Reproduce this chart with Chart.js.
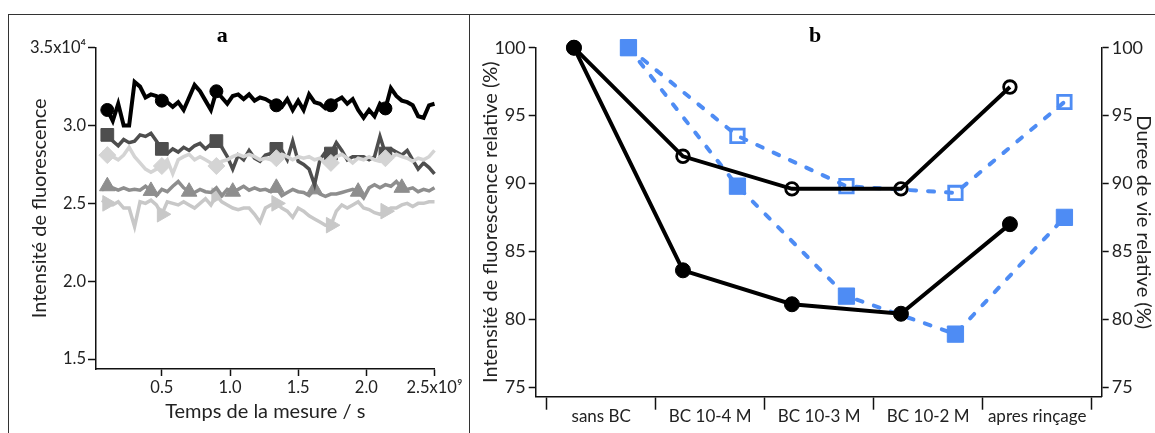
<!DOCTYPE html>
<html lang="fr">
<head>
<meta charset="utf-8">
<title>Fluorescence</title>
<script src="https://cdn.jsdelivr.net/npm/chart.js@4.4.0/dist/chart.umd.min.js"></script>
<style>
  html, body { margin: 0; padding: 0; background: #fff; }
  body { width: 1155px; height: 433px; position: relative; overflow: hidden; }
  .rule { position: absolute; background: #333; }
  canvas { position: absolute; top: 15px; }
  #chartA { left: 10px; }
  #chartB { left: 474px; }
</style>
</head>
<body>
<div class="rule" style="left:8px;top:14px;width:1147px;height:1.4px"></div>
<div class="rule" style="left:8px;top:14px;width:1.4px;height:419px"></div>
<div class="rule" style="left:469px;top:14px;width:1.4px;height:419px"></div>
<canvas id="chartA" width="478" height="418"></canvas>
<canvas id="chartB" width="682" height="418"></canvas>
<script>
// --- panel a : intensité (x10^4) en fonction du temps (x10^9 s)
const times = [0.06,0.10,0.14,0.18,0.22,0.26,0.30,0.34,0.38,0.42,
               0.46,0.50,0.54,0.58,0.62,0.66,0.70,0.74,0.78,0.82,
               0.86,0.90,0.94,0.98,1.02,1.06,1.10,1.14,1.18,1.22,
               1.26,1.30,1.34,1.38,1.42,1.46,1.50,1.54,1.58,1.62,
               1.66,1.70,1.74,1.78,1.82,1.86,1.90,1.94,1.98,2.02,
               2.06,2.10,2.14,2.18,2.22,2.26,2.30,2.34,2.38,2.42,
               2.46,2.50];
const serieNoir = [3.10,3.10,3.03,3.14,3.00,3.00,3.28,3.25,3.18,3.20,
                   3.19,3.16,3.15,3.12,3.15,3.10,3.18,3.26,3.22,3.16,
                   3.10,3.22,3.18,3.14,3.19,3.20,3.17,3.20,3.16,3.18,
                   3.17,3.15,3.13,3.12,3.17,3.10,3.16,3.10,3.20,3.15,
                   3.14,3.11,3.13,3.16,3.18,3.14,3.17,3.10,3.05,3.10,
                   3.06,3.14,3.11,3.24,3.19,3.16,3.15,3.13,3.06,3.05,
                   3.13,3.14];
const serieFonce = [2.94,2.94,2.90,2.87,2.91,2.89,2.90,2.94,2.93,2.95,
                    2.90,2.85,2.82,2.85,2.83,2.86,2.84,2.87,2.885,2.85,
                    2.88,2.90,2.86,2.80,2.72,2.81,2.78,2.84,2.79,2.77,
                    2.81,2.82,2.85,2.84,2.78,2.90,2.77,2.75,2.72,2.62,
                    2.78,2.83,2.82,2.89,2.84,2.78,2.80,2.80,2.80,2.78,
                    2.80,2.93,2.82,2.85,2.83,2.81,2.84,2.78,2.72,2.76,
                    2.73,2.69];
const serieClair = [2.83,2.81,2.80,2.78,2.81,2.86,2.80,2.76,2.72,2.70,
                    2.72,2.74,2.78,2.69,2.78,2.80,2.815,2.78,2.80,2.78,
                    2.76,2.74,2.77,2.78,2.80,2.815,2.80,2.815,2.80,2.78,
                    2.79,2.78,2.79,2.815,2.80,2.78,2.80,2.79,2.80,2.78,
                    2.79,2.76,2.76,2.80,2.815,2.79,2.76,2.79,2.78,2.80,
                    2.78,2.77,2.79,2.79,2.815,2.80,2.79,2.77,2.79,2.78,
                    2.80,2.84];
const serieMoyen = [2.585,2.61,2.60,2.585,2.60,2.585,2.59,2.585,2.61,2.58,
                    2.55,2.59,2.575,2.61,2.64,2.60,2.575,2.57,2.59,2.575,
                    2.57,2.60,2.55,2.59,2.575,2.59,2.61,2.585,2.60,2.585,
                    2.59,2.575,2.60,2.55,2.57,2.59,2.575,2.57,2.55,2.59,
                    2.56,2.545,2.56,2.56,2.57,2.58,2.59,2.575,2.535,2.60,
                    2.62,2.60,2.62,2.61,2.64,2.60,2.59,2.60,2.575,2.59,
                    2.58,2.60];
const seriePale = [2.52,2.50,2.49,2.51,2.47,2.47,2.35,2.51,2.50,2.52,
                   2.49,2.43,2.51,2.50,2.49,2.51,2.49,2.47,2.50,2.53,
                   2.49,2.55,2.51,2.49,2.47,2.46,2.47,2.47,2.43,2.38,
                   2.47,2.49,2.50,2.47,2.45,2.41,2.47,2.45,2.42,2.40,
                   2.38,2.36,2.36,2.45,2.49,2.47,2.49,2.51,2.47,2.46,
                   2.44,2.43,2.45,2.47,2.47,2.49,2.50,2.48,2.50,2.50,
                   2.51,2.51];
const ticksTemps = [0.5, 1.0, 1.5, 2.0, 2.5];
const ticksIntensite = [1.5, 2.0, 2.5, 3.0, 3.5];

// --- panel b : valeurs relatives (%)
const conditions = ['sans BC', 'BC 10-4 M', 'BC 10-3 M', 'BC 10-2 M', 'apres rinçage'];
const intensiteBasse = [100, 83.6, 81.1, 80.4, 87.0];
const intensiteHaute = [100, 92.0, 89.6, 89.6, 97.1];
const dureeBasse = [100, 89.8, 81.7, 78.9, 87.5];
const dureeHaute = [100, 93.5, 89.8, 89.3, 96.0];
const ticksPourcent = [75, 80, 85, 90, 95, 100];

Chart.defaults.font.family = 'Lato';
Chart.defaults.color = '#222';

const ink = '#111';
const blue = '#4e8cf4';

// indices où les marqueurs sont dessinés
const marquesA = [1, 11, 21, 32, 42, 52];
const marquesTri = [1, 9, 16, 24, 32, 39, 47, 55];

function serie(values, color, width, style, radius, marks, rotation) {
    return {
        data: values.map((v, i) => ({ x: times[i], y: v })),
        borderColor: color,
        backgroundColor: color,
        borderWidth: width,
        pointStyle: style,
        pointRotation: rotation || 0,
        pointBackgroundColor: color,
        pointBorderColor: color,
        pointBorderWidth: 1,
        pointRadius: c => marks.includes(c.dataIndex) ? radius : 0,
        tension: 0,
        clip: false
    };
}

// titre de panneau (a / b)
const titrePanneau = text => ({
    display: true, text: text, color: '#000',
    font: { family: 'Liberation Serif', size: 22, weight: 'bold', lineHeight: 1 },
    padding: { top: 10, bottom: 0.7 }
});

new Chart(document.getElementById('chartA'), {
    type: 'line',
    data: {
        datasets: [
            serie(serieNoir, '#000', 4, 'circle', 6.5, marquesA),
            serie(serieClair, '#d4d4d4', 3.5, 'rectRot', 8.5, marquesA),
            serie(serieFonce, '#4e4e4e', 3.5, 'rect', 9, marquesA),
            serie(serieMoyen, '#8e8e8e', 3.5, 'triangle', 9, marquesTri),
            serie(seriePale, '#c8c8c8', 3.5, 'triangle', 9, marquesA, 90)
        ]
    },
    options: {
        responsive: false,
        animation: false,
        layout: { padding: { left: 0, right: 53.5, top: 0, bottom: 0 } },
        plugins: {
            legend: { display: false },
            tooltip: { enabled: false },
            title: titrePanneau('a')
        },
        scales: {
            x: {
                type: 'linear', min: 0.017, max: 2.5,
                afterBuildTicks: s => { s.ticks = ticksTemps.map(v => ({ value: v })); },
                afterFit: s => { s.height = 64; },
                border: { color: ink, width: 1.5 },
                grid: { drawOnChartArea: false, tickLength: 7, tickColor: ink, tickWidth: 1.5 },
                ticks: {
                    autoSkip: false, maxRotation: 0, padding: 2,
                    font: { size: 16.5 },
                    callback: v => v === 2.5 ? '2.5x10⁹' : v.toFixed(1)
                },
                title: {
                    display: true, text: 'Temps de la mesure / s',
                    font: { size: 20 }, padding: { top: 0, bottom: 9 }
                }
            },
            y: {
                type: 'linear', min: 1.436, max: 3.5,
                afterBuildTicks: s => { s.ticks = ticksIntensite.map(v => ({ value: v })); },
                afterFit: s => { s.width = 86; },
                border: { color: ink, width: 1.5 },
                grid: { drawOnChartArea: false, tickLength: 8, tickColor: ink, tickWidth: 1.5 },
                ticks: {
                    autoSkip: false, padding: 2,
                    font: { size: 16.5 },
                    callback: v => v === 3.5 ? '3.5x10⁴' : v.toFixed(1)
                },
                title: {
                    display: true, text: 'Intensité de fluorescence',
                    font: { size: 20 }, padding: { top: 18, bottom: 0 }
                }
            }
        }
    }
});

function ligneB(values, offset, color, axis, style, radius, filled, dashed) {
    return {
        data: values.map((v, i) => ({ x: i + offset, y: v })),
        yAxisID: axis,
        borderColor: color,
        borderWidth: 4,
        borderDash: dashed ? [6, 12] : [],
        borderCapStyle: dashed ? 'round' : 'butt',
        pointStyle: style,
        pointRadius: radius,
        pointBackgroundColor: filled ? color : 'rgba(0,0,0,0)',
        pointBorderColor: color,
        pointBorderWidth: filled ? 1 : 2.8,
        tension: 0,
        clip: false
    };
}

const axeY = (position, title, pad, width) => ({
    type: 'linear', position: position, min: 74.29, max: 100,
    afterBuildTicks: s => { s.ticks = ticksPourcent.map(v => ({ value: v })); },
    afterFit: s => { s.width = width; },
    border: { color: ink, width: 1.5 },
    grid: { drawOnChartArea: false, tickLength: 7, tickColor: ink, tickWidth: 1.5 },
    ticks: { autoSkip: false, padding: 3, font: { size: 18 } },
    title: { display: true, text: title, font: { size: 20 }, padding: { top: pad, bottom: 0 } }
});

new Chart(document.getElementById('chartB'), {
    type: 'line',
    data: {
        datasets: [
            ligneB(intensiteBasse, 0.25, '#000', 'y', 'circle', 7.5, true, false),
            ligneB(intensiteHaute, 0.25, '#000', 'y', 'circle', 6.3, false, false),
            ligneB(dureeBasse, 0.75, blue, 'y2', 'rect', 11.5, true, true),
            ligneB(dureeHaute, 0.75, blue, 'y2', 'rect', 9.5, false, true)
        ]
    },
    options: {
        responsive: false,
        animation: false,
        layout: { padding: 0 },
        plugins: {
            legend: { display: false },
            tooltip: { enabled: false },
            title: titrePanneau('b')
        },
        scales: {
            x: {
                type: 'linear', min: -0.101, max: 5.092,
                afterBuildTicks: s => {
                    s.ticks = [0, 0.5, 1, 1.5, 2, 2.5, 3, 3.5, 4, 4.5, 5].map(v => ({ value: v }));
                },
                afterFit: s => { s.height = 36.3; },
                border: { color: ink, width: 1.5 },
                grid: {
                    drawOnChartArea: false, tickLength: 13, tickWidth: 1.5,
                    tickColor: c => (c.tick && c.tick.value % 1 === 0) ? ink : 'rgba(0,0,0,0)'
                },
                ticks: {
                    autoSkip: false, maxRotation: 0, minRotation: 0, padding: -3,
                    font: { size: 17 },
                    callback: v => (v % 1 === 0.5) ? conditions[Math.floor(v)] : ''
                }
            },
            y: axeY('left', 'Intensité de fluorescence relative (%)', 5, 61.7),
            y2: axeY('right', 'Duree de vie relative (%)', 1, 54.3)
        }
    }
});
</script>
</body>
</html>
